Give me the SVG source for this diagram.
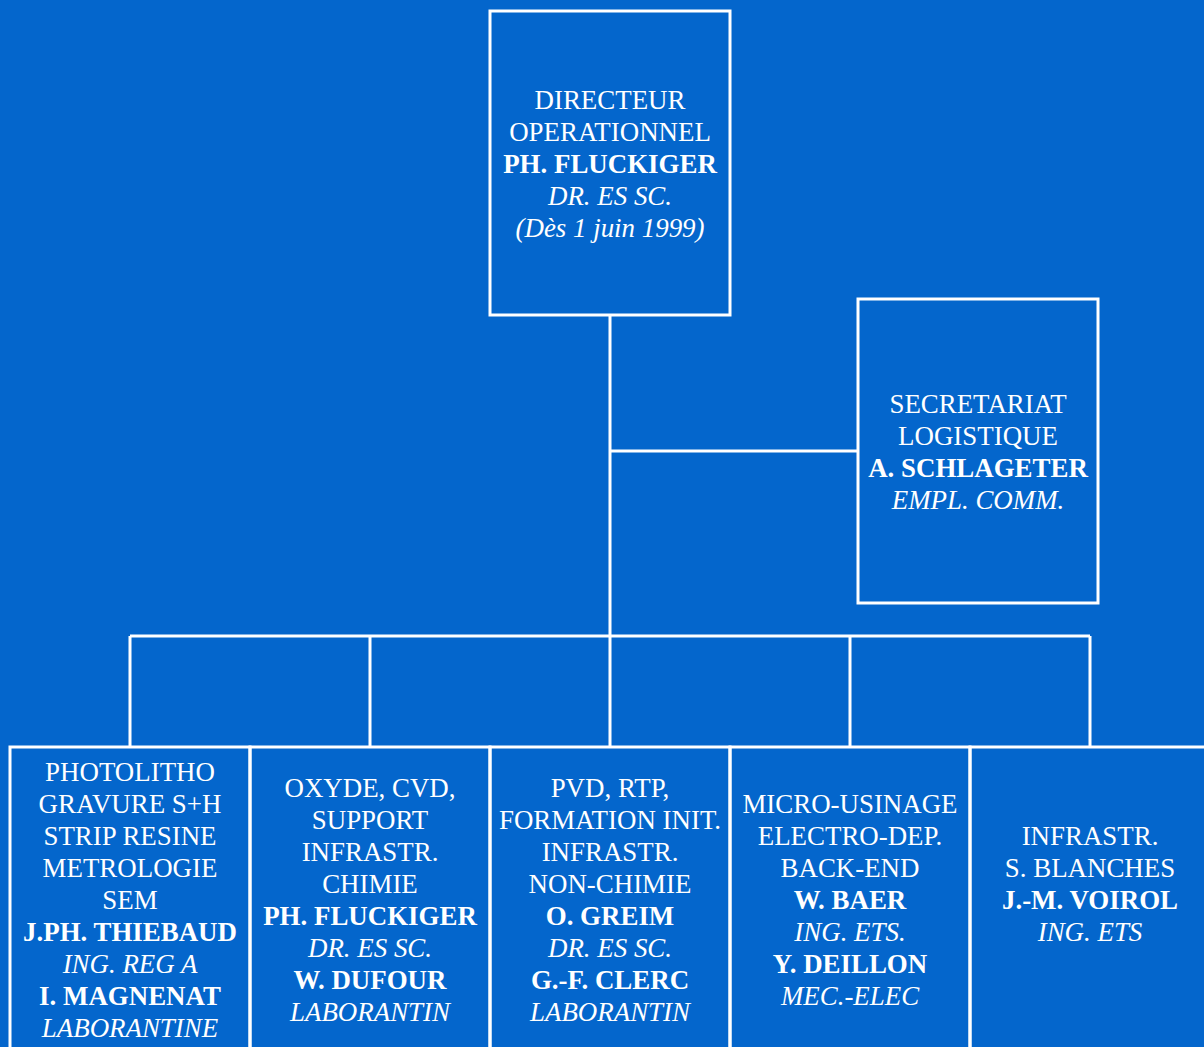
<svg xmlns="http://www.w3.org/2000/svg" width="1204" height="1047" viewBox="0 0 1204 1047">
<style>
.bg{fill:#0466CC}
.box{fill:none;stroke:#FFFFFF;stroke-width:3}
.ln{stroke:#FFFFFF;stroke-width:3;fill:none}
text{font-family:"Liberation Serif","Times New Roman",serif;font-size:26.9px;fill:#FFFFFF;text-anchor:middle}
.b{font-weight:bold}
.i{font-style:italic}
</style>
<rect class="bg" x="0" y="0" width="1204" height="1047"/>
<g id="connectors">
<path class="ln" d="M610 315 V747 M610 451 H858 M130 636 H1090 M130 636 V747 M370 636 V747 M850 636 V747 M1090 636 V747"/>
</g>
<g id="directeur">
<rect class="box" x="490" y="11" width="240" height="304"/>
<text x="610" y="108.5">DIRECTEUR</text>
<text x="610" y="140.5">OPERATIONNEL</text>
<text x="610" y="172.5" class="b">PH. FLUCKIGER</text>
<text x="610" y="204.5" class="i">DR. ES SC.</text>
<text x="610" y="236.5" class="i">(Dès 1 juin 1999)</text>
</g>
<g id="secretariat">
<rect class="box" x="858" y="299" width="240" height="304"/>
<text x="978" y="412.5">SECRETARIAT</text>
<text x="978" y="444.5">LOGISTIQUE</text>
<text x="978" y="476.5" class="b">A. SCHLAGETER</text>
<text x="978" y="508.5" class="i">EMPL. COMM.</text>
</g>
<g id="photolitho">
<rect class="box" x="10" y="747" width="240" height="320"/>
<text x="130" y="780.5">PHOTOLITHO</text>
<text x="130" y="812.5">GRAVURE S+H</text>
<text x="130" y="844.5">STRIP RESINE</text>
<text x="130" y="876.5">METROLOGIE</text>
<text x="130" y="908.5">SEM</text>
<text x="130" y="940.5" class="b">J.PH. THIEBAUD</text>
<text x="130" y="972.5" class="i">ING. REG A</text>
<text x="130" y="1004.5" class="b">I. MAGNENAT</text>
<text x="130" y="1036.5" class="i">LABORANTINE</text>
</g>
<g id="oxyde">
<rect class="box" x="250" y="747" width="240" height="320"/>
<text x="370" y="796.5">OXYDE, CVD,</text>
<text x="370" y="828.5">SUPPORT</text>
<text x="370" y="860.5">INFRASTR.</text>
<text x="370" y="892.5">CHIMIE</text>
<text x="370" y="924.5" class="b">PH. FLUCKIGER</text>
<text x="370" y="956.5" class="i">DR. ES SC.</text>
<text x="370" y="988.5" class="b">W. DUFOUR</text>
<text x="370" y="1020.5" class="i">LABORANTIN</text>
</g>
<g id="pvd">
<rect class="box" x="490" y="747" width="240" height="320"/>
<text x="610" y="796.5">PVD, RTP,</text>
<text x="610" y="828.5">FORMATION INIT.</text>
<text x="610" y="860.5">INFRASTR.</text>
<text x="610" y="892.5">NON-CHIMIE</text>
<text x="610" y="924.5" class="b">O. GREIM</text>
<text x="610" y="956.5" class="i">DR. ES SC.</text>
<text x="610" y="988.5" class="b">G.-F. CLERC</text>
<text x="610" y="1020.5" class="i">LABORANTIN</text>
</g>
<g id="micro">
<rect class="box" x="730" y="747" width="240" height="320"/>
<text x="850" y="812.5">MICRO-USINAGE</text>
<text x="850" y="844.5">ELECTRO-DEP.</text>
<text x="850" y="876.5">BACK-END</text>
<text x="850" y="908.5" class="b">W. BAER</text>
<text x="850" y="940.5" class="i">ING. ETS.</text>
<text x="850" y="972.5" class="b">Y. DEILLON</text>
<text x="850" y="1004.5" class="i">MEC.-ELEC</text>
</g>
<g id="infrastr">
<rect class="box" x="970" y="747" width="260" height="320"/>
<text x="1090" y="844.5">INFRASTR.</text>
<text x="1090" y="876.5">S. BLANCHES</text>
<text x="1090" y="908.5" class="b">J.-M. VOIROL</text>
<text x="1090" y="940.5" class="i">ING. ETS</text>
</g>
</svg>
